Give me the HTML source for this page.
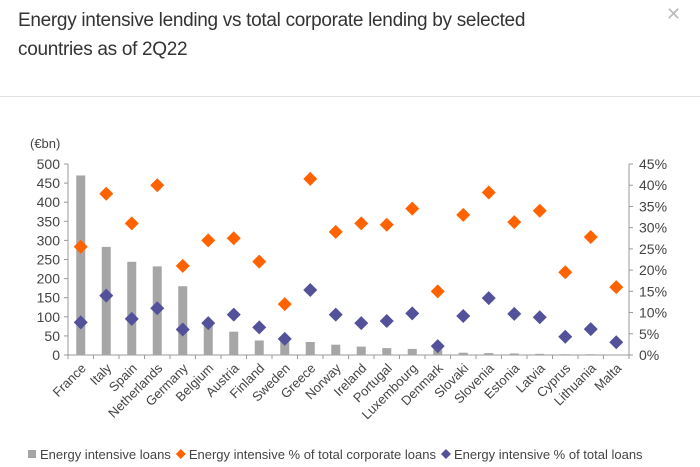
<!DOCTYPE html>
<html><head><meta charset="utf-8">
<style>
body{margin:0;width:700px;height:467px;background:#fff;font-family:"Liberation Sans",sans-serif;overflow:hidden;position:relative}
#title{position:absolute;left:18px;top:6px;font-size:19px;line-height:29px;color:#333;width:560px;letter-spacing:-0.3px}
#close{position:absolute;left:666px;top:4px;font-size:18px;color:#bbb}
#divider{position:absolute;left:0;top:96px;width:700px;height:1px;background:#e2e2e2}
svg{position:absolute;left:0;top:0}
</style></head><body>
<div id="title">Energy intensive lending vs total corporate lending by selected countries as of 2Q22</div>
<div id="close">✕</div>
<div id="divider"></div>
<svg id="chart" width="700" height="467"></svg>
<script>
const categories=["France","Italy","Spain","Netherlands","Germany","Belgium","Austria","Finland","Sweden","Greece","Norway","Ireland","Portugal","Luxembourg","Denmark","Slovaki","Slovenia","Estonia","Latvia","Cyprus","Lithuania","Malta"];
const loans=[470,283,244,232,180,80,61,38,38,34,27,22,18,16,14,6,5,4,3,2,2,1];
const pctCorporate=[25.5,38,31,40,21,27,27.5,22,12,41.5,29,31,30.7,34.5,15,33,38.3,31.3,34,19.5,27.8,16];
const pctTotal=[7.7,14,8.5,11,6,7.5,9.5,6.5,3.8,15.3,9.5,7.5,8,9.8,2.1,9.2,13.4,9.7,8.9,4.3,6.1,3];
const leftTicks=[0,50,100,150,200,250,300,350,400,450,500];
const rightTicks=[0,5,10,15,20,25,30,35,40,45];

const NS="http://www.w3.org/2000/svg";
const svg=document.getElementById('chart');
const X0=68,X1=629,Y0=355,Y1=164;
const band=(X1-X0)/categories.length;
const xc=i=>X0+band*(i+0.5);
const yL=v=>Y0-(v/500)*(Y0-Y1);
const yR=v=>Y0-(v/45)*(Y0-Y1);
function mk(tag,attrs,parent){const e=document.createElementNS(NS,tag);for(const k in attrs)e.setAttribute(k,attrs[k]);(parent||svg).appendChild(e);return e;}
const axisCol="#999",txt="#444";
mk('line',{x1:X0,y1:Y1,x2:X0,y2:Y0,stroke:axisCol});
mk('line',{x1:X1,y1:Y1,x2:X1,y2:Y0,stroke:axisCol});
mk('line',{x1:X0,y1:Y0,x2:X1,y2:Y0,stroke:axisCol});
leftTicks.forEach(t=>{
  mk('line',{x1:X0-4,y1:yL(t),x2:X0,y2:yL(t),stroke:axisCol});
  const e=mk('text',{x:X0-8,y:yL(t)+5,'text-anchor':'end','font-size':14,fill:txt});
  e.textContent=t;
  
  
});
rightTicks.forEach(t=>{
  mk('line',{x1:X1,y1:yR(t),x2:X1+4,y2:yR(t),stroke:axisCol});
  const e=mk('text',{x:X1+10,y:yR(t)+5,'text-anchor':'start','font-size':14,fill:txt});
  e.textContent=t+'%';
  
  
});
const unit=mk('text',{x:30,y:148,'font-size':13,fill:txt});
unit.textContent='(€bn)';


for(let i=0;i<=categories.length;i++){mk('line',{x1:X0+band*i,y1:Y0,x2:X0+band*i,y2:Y0+4,stroke:axisCol});}
categories.forEach((c,i)=>{
  const b=mk('rect',{x:xc(i)-4.5,y:yL(loans[i]),width:9,height:Y0-yL(loans[i]),fill:'#a6a6a6'});
  
  
  const l=mk('text',{x:xc(i)+6,y:Y0+14,'text-anchor':'end','font-size':13,fill:txt,transform:`rotate(-45 ${xc(i)+6} ${Y0+14})`});
  l.textContent=c;
  
  
});
function diamond(x,y,col,name){
  const p=mk('path',{d:`M${x} ${y-7}L${x+7} ${y}L${x} ${y+7}L${x-7} ${y}Z`,fill:col});
  
  
}
categories.forEach((c,i)=>{
  diamond(xc(i),yR(pctCorporate[i]),'#ff6200','point-corporate-'+c.toLowerCase());
  diamond(xc(i),yR(pctTotal[i]),'#525199','point-total-'+c.toLowerCase());
});
// legend
const lg=mk('g',{});


let lx=28;
mk('rect',{x:lx,y:450,width:8,height:8,fill:'#a6a6a6'},lg);
let t1=mk('text',{x:lx+12,y:459,'font-size':13,fill:txt},lg);t1.textContent='Energy intensive loans';

lx=lx+12+t1.getComputedTextLength()+10;
mk('path',{d:`M${lx} 449L${lx+5} 454L${lx} 459L${lx-5} 454Z`,fill:'#ff6200'},lg);
let t2=mk('text',{x:lx+8,y:459,'font-size':13,fill:txt},lg);t2.textContent='Energy intensive % of total corporate loans';

lx=lx+8+t2.getComputedTextLength()+10;
mk('path',{d:`M${lx} 449L${lx+5} 454L${lx} 459L${lx-5} 454Z`,fill:'#525199'},lg);
let t3=mk('text',{x:lx+8,y:459,'font-size':13,fill:txt},lg);t3.textContent='Energy intensive % of total loans';

</script>
</body></html>
